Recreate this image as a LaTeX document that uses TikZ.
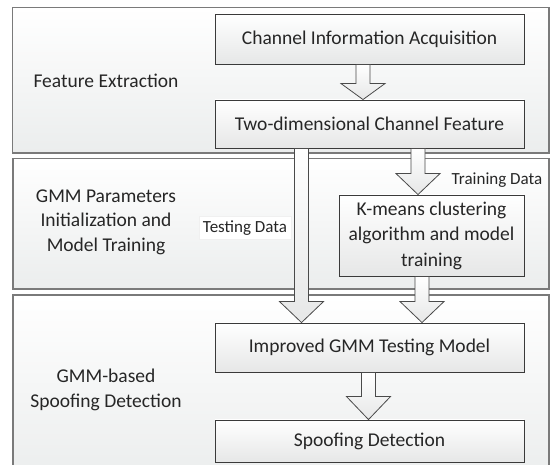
\documentclass[tikz,border=0pt]{standalone}
\usepackage{fontspec}
\setmainfont{Carlito}
\usetikzlibrary{calc}
\definecolor{txt}{HTML}{262626}
\definecolor{panelline}{HTML}{7A7A7A}
\definecolor{panelbot}{HTML}{EBEDED}
\definecolor{boxline}{HTML}{3A3A3A}
\definecolor{boxbot}{HTML}{E6E7E7}
\definecolor{arrowline}{HTML}{4A4A4A}
\begin{document}
\begin{tikzpicture}[x=1pt,y=-1pt,
  panel/.style={draw=panelline, line width=1.2pt, top color=white, bottom color=panelbot},
  box/.style={draw=boxline, line width=0.9pt, top color=white, bottom color=boxbot,
    minimum width=309pt, inner sep=0pt, text=txt, font=\fontsize{19.5}{25.5}\selectfont, align=center},
  lbl/.style={text=txt, font=\fontsize{19.5}{24.5}\selectfont, align=center},
  small/.style={text=txt, font=\fontsize{17}{20}\selectfont},
  blockarrow/.style={draw=arrowline, line width=0.8pt, top color=white, bottom color=boxbot,
    to path={let \p1=(\tikztostart), \p2=(\tikztotarget) in
      (\x1-7pt,\y1) -- (\x1-7pt,\y2+#1) -- (\x1-22pt,\y2+#1) -- (\x1,\y2)
      -- (\x1+22pt,\y2+#1) -- (\x1+7pt,\y2+#1) -- (\x1+7pt,\y1) -- cycle}},
  blockarrow/.default=21pt]
\useasboundingbox (0,0) rectangle (555,465);
% panels
\path[panel] (12.5,7.5) rectangle (549,153);
\path[panel] (13,158.5) rectangle (549,289);
\path[panel] (13,295) rectangle (549,480);
% panel labels
\node[lbl] (l1) at (106,81) {Feature Extraction};
\node[lbl] (l2) at (106,222) {GMM Parameters\\Initialization and\\Model Training};
\node[lbl] (l3) at (106,390) {GMM-based\\Spoofing Detection};
% boxes
\node[box, minimum height=50pt] (A) at (369.5,39) {Channel Information Acquisition};
\node[box, minimum height=48pt] (B) at (369.5,124) {Two-dimensional Channel Feature};
\node[box, minimum width=185pt, minimum height=81pt] (K) at (431.5,235.5) {K-means clustering\\algorithm and model\\training};
\node[box, minimum height=49pt] (I) at (369.5,347.5) {Improved GMM Testing Model};
\node[box, minimum height=42pt] (S) at (369.5,441) {Spoofing Detection};
% data labels
\node[small, fill=white, draw=black!6, inner sep=4pt] (td) at (245,228) {Testing Data};
\node[small] (trd) at (497,180) {Training Data};
% arrows
\draw[blockarrow=16pt] ([xshift=-6.5pt]A.south) to ([xshift=-6.5pt]B.north);
\draw[blockarrow] ([xshift=-68pt]B.south) to ([xshift=-68pt]I.north);
\draw[blockarrow] ([xshift=48.5pt]B.south) to ([xshift=-13.5pt]K.north);
\draw[blockarrow] ([xshift=-9.5pt]K.south) to ([xshift=52.5pt]I.north);
\draw[blockarrow=23pt] ([xshift=-1pt]I.south) to ([xshift=-1pt]S.north);
\end{tikzpicture}
\end{document}
